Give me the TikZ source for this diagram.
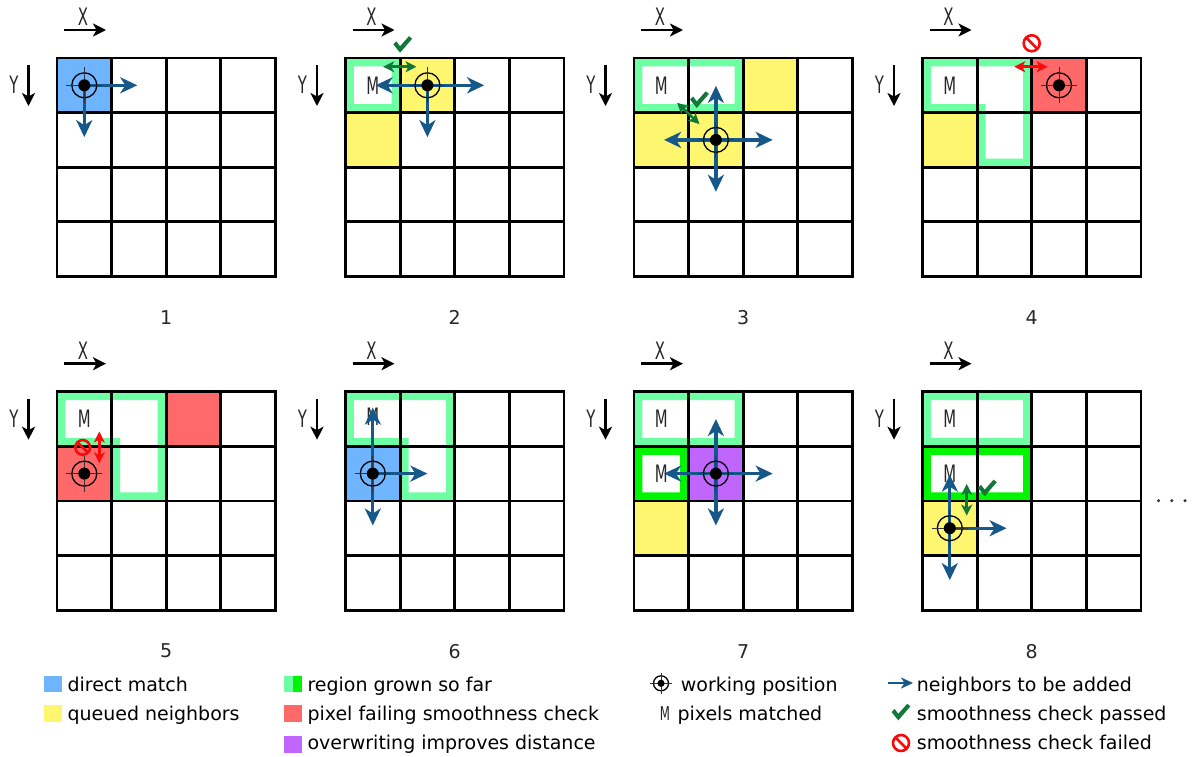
\documentclass[tikz,border=0pt]{standalone}
\usepackage{fontspec}
\setmainfont{DejaVu Sans}
\newfontfamily\condf[FakeStretch=0.62]{DejaVu Sans}
\usetikzlibrary{arrows.meta}
\definecolor{cblue}{RGB}{110,180,255}
\definecolor{cyellow}{RGB}{255,246,112}
\definecolor{clgreen}{RGB}{110,255,165}
\definecolor{cbgreen}{RGB}{0,245,0}
\definecolor{cred}{RGB}{255,105,105}
\definecolor{cpurple}{RGB}{192,102,255}
\definecolor{arrblue}{RGB}{22,88,138}
\definecolor{chkgreen}{RGB}{16,120,56}
\definecolor{failred}{RGB}{250,10,10}
\tikzset{
  gridline/.style={line width=2.8pt, black, line cap=rect},
  nbarrow/.style={line width=3.3pt, arrblue, -{Stealth[length=17pt,width=16pt,inset=5pt]}},
  legarrow/.style={line width=2.2pt, arrblue, -{Stealth[length=12pt,width=11pt,inset=3.5pt]}},
  okarrow/.style={line width=2.6pt, chkgreen, {Stealth[length=11pt,width=11pt,inset=3pt]}-{Stealth[length=11pt,width=11pt,inset=3pt]}},
  failarrow/.style={okarrow, failred},
  axisarrow/.style={line width=2.6pt, black, -{Stealth[length=13pt,width=13pt,inset=3.5pt]}},
  axislabel/.style={font=\condf\fontsize{24}{24}\selectfont, inner sep=0pt, text=black!85},
  mlabel/.style={font=\condf\fontsize{24}{24}\selectfont, inner sep=0pt, text=black!85},
  numlabel/.style={font=\fontsize{19}{19}\selectfont, inner sep=0pt, text=black!85},
  legtext/.style={font=\fontsize{19}{19}\selectfont, inner sep=0pt, anchor=base west},
  wpos/.pic={
    \draw[line width=1.3pt] (0,0) circle (12.5pt);
    \draw[line width=1pt, black!80] (-18pt,0)--(18pt,0) (0,-18pt)--(0,18pt);
    \fill (0,0) circle (6pt);
  },
  chk/.pic={\fill[chkgreen,scale=1.12] (-8pt,0.5pt)--(-5.3pt,3.2pt)--(-2pt,-1.2pt)--(6pt,7.8pt)--(8.8pt,5.5pt)--(-2pt,-7pt)--cycle;},
  fail/.pic={\draw[failred,line width=2.6pt] (0,0) circle (8pt) (135:8pt)--(-45:8pt);},
}
\newcommand\gridlines{\foreach \i in {0,...,4}{\draw[gridline] (\i,0)--(\i,4); \draw[gridline] (0,\i)--(4,\i);}}
\newcommand\axes{%
  \draw[axisarrow] (7pt,28pt) -- (49pt,28pt);
  \node[axislabel] at (26pt,41pt) {X};
  \draw[axisarrow] (-28.5pt,-7pt) -- (-28.5pt,-48pt);
  \node[axislabel] at (-43pt,-27pt) {Y};
}
\newcommand\cellfill[3]{\fill[#1] (#2,#3) rectangle ++(1,1);}
\newcommand\rectregion[5]{\fill[#1,even odd rule] (#2,#3) rectangle (#4,#5) ({#2+0.155},{#3+0.155}) rectangle ({#4-0.155},{#5-0.155});}
\newcommand\Lregion{\fill[clgreen,even odd rule] (0,0)--(2,0)--(2,2)--(1,2)--(1,1)--(0,1)--cycle (0.155,0.155)--(1.845,0.155)--(1.845,1.845)--(1.155,1.845)--(1.155,0.845)--(0.155,0.845)--cycle;}
\newcommand\numlab[1]{\node[numlabel] at (109.2pt,-259.4pt) {#1};}
\begin{document}
\begin{tikzpicture}[x=1pt,y=-1pt]
\useasboundingbox (0,0) rectangle (1194,756);
% ---------- panel 1
\begin{scope}[shift={(57pt,-58pt)},x=54.6pt,y=-54.6pt]
  \cellfill{cblue}{0}{0}
  \gridlines \axes
  \coordinate (w1) at (0.5,0.5);
  \draw[nbarrow] (w1) -- (1.47,0.5);
  \draw[nbarrow] (w1) -- (0.5,1.45);
  \pic at (w1) {wpos};
  \numlab{1}
\end{scope}
% ---------- panel 2
\begin{scope}[shift={(345.5pt,-58pt)},x=54.6pt,y=-54.6pt]
  \cellfill{cyellow}{1}{0} \cellfill{cyellow}{0}{1}
  \rectregion{clgreen}{0}{0}{1}{1}
  \gridlines \axes
  \node[mlabel] (m2) at (0.5,0.5) {M};
  \coordinate (w2) at (1.5,0.5);
  \draw[nbarrow] (w2) -- (0.55,0.5);
  \draw[nbarrow] (w2) -- (2.54,0.5);
  \draw[nbarrow] (w2) -- (1.5,1.45);
  \pic at (w2) {wpos};
  \draw[okarrow] (0.69,0.16) -- (1.30,0.16);
  \pic at (1.04,-0.24) {chk};
  \numlab{2}
\end{scope}
% ---------- panel 3
\begin{scope}[shift={(634pt,-58pt)},x=54.6pt,y=-54.6pt]
  \cellfill{cyellow}{2}{0} \cellfill{cyellow}{0}{1} \cellfill{cyellow}{1}{1}
  \rectregion{clgreen}{0}{0}{2}{1}
  \gridlines \axes
  \node[mlabel] (m3) at (0.5,0.5) {M};
  \coordinate (w3) at (1.5,1.5);
  \draw[nbarrow] (w3) -- (1.5,0.51);
  \draw[nbarrow] (w3) -- (1.5,2.45);
  \draw[nbarrow] (w3) -- (0.55,1.5);
  \draw[nbarrow] (w3) -- (2.54,1.5);
  \pic at (w3) {wpos};
  \draw[okarrow] (0.79,0.82) -- (1.2,1.21);
  \pic at (1.19,0.77) {chk};
  \numlab{3}
\end{scope}
% ---------- panel 4
\begin{scope}[shift={(922.5pt,-58pt)},x=54.6pt,y=-54.6pt]
  \cellfill{cyellow}{0}{1} \cellfill{cred}{2}{0}
  \Lregion
  \gridlines \axes
  \node[mlabel] (m4) at (0.5,0.5) {M};
  \pic at (2.5,0.5) {wpos};
  \draw[failarrow] (1.68,0.16) -- (2.29,0.16);
  \pic at (2.0,-0.27) {fail};
  \numlab{4}
\end{scope}
% ---------- panel 5
\begin{scope}[shift={(57pt,-391.7pt)},x=54.6pt,y=-54.6pt]
  \cellfill{cred}{0}{1} \cellfill{cred}{2}{0}
  \Lregion
  \gridlines \axes
  \node[mlabel] (m5) at (0.5,0.5) {M};
  \pic at (0.5,1.5) {wpos};
  \draw[failarrow] (0.775,0.73) -- (0.775,1.31);
  \pic[scale=0.92] at (0.47,1.02) {fail};
  \numlab{5}
\end{scope}
% ---------- panel 6
\begin{scope}[shift={(345.5pt,-391.7pt)},x=54.6pt,y=-54.6pt]
  \cellfill{cblue}{0}{1}
  \Lregion
  \gridlines \axes
  \node[mlabel] (m6) at (0.5,0.45) {M};
  \coordinate (w6) at (0.5,1.5);
  \draw[nbarrow] (w6) -- (0.5,0.29);
  \draw[nbarrow] (w6) -- (1.5,1.5);
  \draw[nbarrow] (w6) -- (0.5,2.45);
  \pic at (w6) {wpos};
  \numlab{6}
\end{scope}
% ---------- panel 7
\begin{scope}[shift={(634pt,-391.7pt)},x=54.6pt,y=-54.6pt]
  \cellfill{cpurple}{1}{1} \cellfill{cyellow}{0}{2}
  \rectregion{clgreen}{0}{0}{2}{1}
  \rectregion{cbgreen}{0}{1}{1}{2}
  \gridlines \axes
  \node[mlabel] (m7a) at (0.5,0.5) {M};
  \node[mlabel] (m7b) at (0.5,1.5) {M};
  \coordinate (w7) at (1.5,1.5);
  \draw[nbarrow] (w7) -- (1.5,0.5);
  \draw[nbarrow] (w7) -- (1.5,2.45);
  \draw[nbarrow] (w7) -- (0.55,1.5);
  \draw[nbarrow] (w7) -- (2.54,1.5);
  \pic at (w7) {wpos};
  \numlab{7}
\end{scope}
% ---------- panel 8
\begin{scope}[shift={(922.5pt,-391.7pt)},x=54.6pt,y=-54.6pt]
  \cellfill{cyellow}{0}{2}
  \rectregion{clgreen}{0}{0}{2}{1}
  \rectregion{cbgreen}{0}{1}{2}{2}
  \gridlines \axes
  \node[mlabel] (m8a) at (0.5,0.5) {M};
  \node[mlabel] (m8b) at (0.5,1.5) {M};
  \coordinate (w8) at (0.5,2.5);
  \draw[nbarrow] (w8) -- (0.5,1.52);
  \draw[nbarrow] (w8) -- (1.54,2.5);
  \draw[nbarrow] (w8) -- (0.5,3.45);
  \pic at (w8) {wpos};
  \draw[okarrow] (0.81,1.69) -- (0.81,2.27);
  \pic at (1.18,1.77) {chk};
  \numlab{8}
\end{scope}
% dots
\foreach \dx in {1158.5,1171.8,1185}{\fill[black!80] (\dx,500.7) circle (1.7);}
% ---------- legend
\fill[cblue] (44,676) rectangle (62,692);
\node[legtext] at (67.3,691) {direct match};
\fill[cyellow] (44,705) rectangle (62,721.5);
\node[legtext] at (67.3,720) {queued neighbors};
\fill[clgreen] (284,676) rectangle (293.3,692);
\fill[cbgreen] (293.3,676) rectangle (302,692);
\node[legtext] at (307.3,691) {region grown so far};
\fill[cred] (284,705) rectangle (302,721.5);
\node[legtext] at (307.3,720) {pixel failing smoothness check};
\fill[cpurple] (284,736) rectangle (302,753);
\node[legtext] at (307.3,749.5) {overwriting improves distance};
\pic[scale=0.6] at (661,683.3) {wpos};
\node[legtext] at (680.7,691) {working position};
\node[mlabel,font=\condf\fontsize{19}{19}\selectfont] at (665,714) {M};
\node[legtext] at (677.3,720) {pixels matched};
\coordinate (la0) at (888,683);
\coordinate (la1) at (913,683);
\draw[legarrow] (la0) -- (la1);
\node[legtext] at (916.7,691) {neighbors to be added};
\pic at (900.5,712.5) {chk};
\node[legtext] at (916.7,720) {smoothness check passed};
\pic at (901,743) {fail};
\node[legtext] at (916.7,749.5) {smoothness check failed};
\end{tikzpicture}
\end{document}
